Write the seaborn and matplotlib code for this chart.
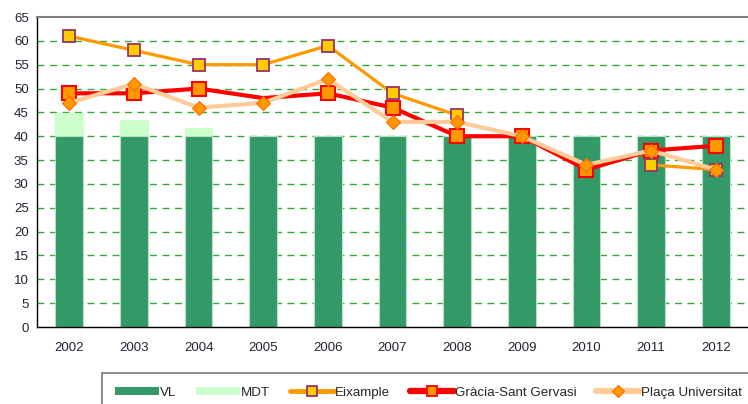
import numpy as np
import pandas as pd
import seaborn as sns
import matplotlib.pyplot as plt
from matplotlib.patches import Patch
from matplotlib.lines import Line2D

years = ['2002', '2003', '2004', '2005', '2006', '2007', '2008', '2009', '2010', '2011', '2012']
vl = [40, 40, 40, 40, 40, 40, 40, 40, 40, 40, 40]
mdt = [4.8, 3.3, 1.8, 0, 0, 0, 0, 0, 0, 0, 0]
eixample = [61, 58, 55, 55, 59, 49, 44.4, np.nan, np.nan, 34, 33]
gracia = [49, 49, 50, 48, 49, 46, 40, 40, 33, 37, 38]
placa = [47, 51, 46, 47, 52, 43, 43, 40, 34, 37, 33]

sns.set_style('white')
plt.rcParams['font.family'] = ['Liberation Sans', 'DejaVu Sans']

df = pd.DataFrame({'year': years, 'vl': vl, 'top': np.array(vl) + np.array(mdt)})

fig = plt.figure(figsize=(7.48, 4.04), dpi=100)
ax = fig.add_axes([37 / 748, 1 - 327 / 404, 711 / 748, 310 / 404])

# stacked bars: total (VL + MDT) first, VL over it
sns.barplot(data=df, x='year', y='top', color='#ccffcc', width=0.43, saturation=1,
            edgecolor='#ccffcc', linewidth=0.8, ax=ax, zorder=2)
sns.barplot(data=df, x='year', y='vl', color='#339966', width=0.43, saturation=1,
            edgecolor='#b8e0c8', linewidth=0.8, ax=ax, zorder=2)

x = np.arange(len(years))
ax.plot(x, eixample, color='#ff9900', lw=2.3, marker='s', ms=8.5,
        mfc='#ffcc00', mec='#993366', mew=1.3, zorder=4)
ax.plot(x, gracia, color='#ff0000', lw=3, marker='s', ms=10,
        mfc='#ff9900', mec='#ff0000', mew=1.5, zorder=3,
        markevery=[0, 1, 2, 4, 5, 6, 7, 8, 9, 10])
ax.plot(x, placa, color='#ffcc99', lw=3, marker='D', ms=7,
        mfc='#ff9900', mec='#ff6600', mew=0.8, zorder=5)

ax.set_ylim(0, 65)
ax.set_xlim(-0.5, 10.5)
ax.set_yticks(range(0, 70, 5))
ax.set_xticks(np.arange(-0.5, 11, 1))
ax.set_xticklabels([])
ax.set_xticks(x, minor=True)
ax.set_xticklabels(years, minor=True)
ax.tick_params(axis='x', which='major', length=4, width=1, color='black', direction='out')
ax.tick_params(axis='x', which='minor', length=0, pad=11, labelsize=9.5, labelcolor='#222233')
ax.tick_params(axis='y', length=4, width=1, color='black', direction='out', pad=2,
               labelsize=9.5, labelcolor='#222233')
ax.set_xlabel('')
ax.set_ylabel('')

for v in range(5, 65, 5):
    ax.axhline(v, color='#33aa33', lw=1, ls=(0, (5, 4)), zorder=1)

ax.spines['left'].set_color('black')
ax.spines['bottom'].set_color('black')
ax.spines['top'].set_color('#808080')
ax.spines['top'].set_linewidth(1.5)
ax.spines['right'].set_visible(False)
for s in ['left', 'bottom']:
    ax.spines[s].set_linewidth(1)

handles = [
    Patch(facecolor='#339966', edgecolor='none', label='VL'),
    Patch(facecolor='#ccffcc', edgecolor='none', label='MDT'),
    Line2D([], [], color='#ff9900', lw=3.5, marker='s', ms=7, mfc='#ffcc00', mec='#993366', mew=1.3, label='Eixample'),
    Line2D([], [], color='#ff0000', lw=4.5, marker='s', ms=7, mfc='#ff9900', mec='#ff0000', mew=1.3, label='Gràcia-Sant Gervasi'),
    Line2D([], [], color='#ffcc99', lw=4.5, marker='D', ms=6, mfc='#ff9900', mec='#ff6600', mew=0.8, label='Plaça Universitat'),
]
leg = fig.legend(handles=handles, loc='lower left', bbox_to_anchor=(102 / 748, -8 / 404),
                 ncol=5, frameon=True, fancybox=False, fontsize=9.6, handlelength=3.3,
                 handleheight=0.55, handletextpad=0.05, columnspacing=1.5,
                 borderpad=1.0, borderaxespad=0)
leg.get_frame().set_edgecolor('#555555')
leg.get_frame().set_linewidth(1.2)

fig.savefig('out.png', dpi=100)
